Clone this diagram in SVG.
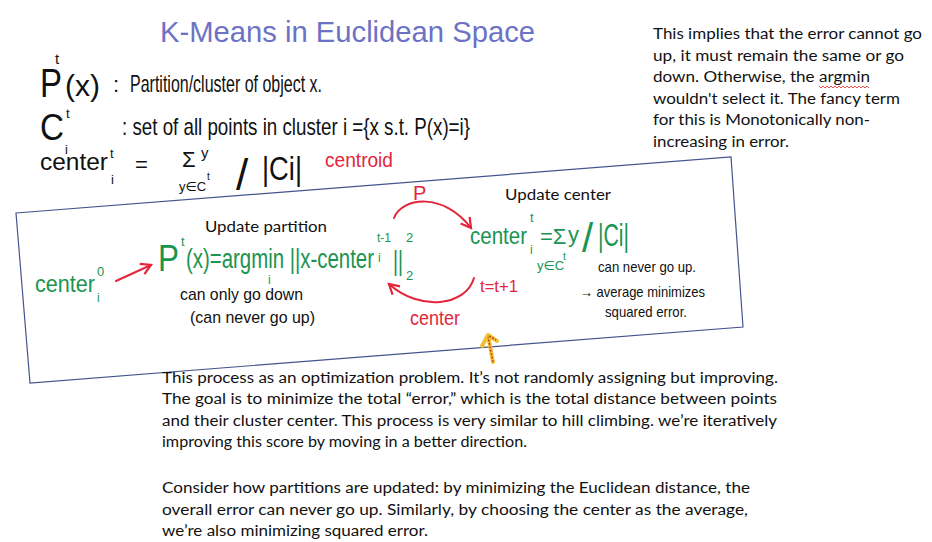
<svg xmlns="http://www.w3.org/2000/svg" width="932" height="542" viewBox="0 0 932 542">
<style>
.hw{font-family:"Liberation Sans","DejaVu Sans",sans-serif;}
.blk{fill:#111;}
.grn{fill:#1a9450;}
.red{fill:#e3263c;}
.ttl{fill:#6d72c6;}
.typ{font-family:Lato,"Open Sans","Liberation Sans",sans-serif;fill:#111;font-size:15.5px;}
.rl{fill:none;stroke:#e3263c;stroke-width:2;stroke-linecap:round;}
</style>
<defs>
<marker id="ah" viewBox="0 0 10 10" refX="8" refY="5" markerWidth="7" markerHeight="7" orient="auto-start-reverse">
<path d="M1,1 L8,5 L1,9" fill="none" stroke="#e3263c" stroke-width="1.6"/>
</marker>
</defs>
<rect width="932" height="542" fill="#fff"/>

<g id="title"><text class="hw ttl" x="160" y="42" font-size="30" textLength="375" lengthAdjust="spacingAndGlyphs">K-Means in Euclidean Space</text></g>

<g id="def-partition" class="hw blk">
<text x="40" y="97" font-size="40" textLength="22" lengthAdjust="spacingAndGlyphs">P</text>
<text x="55" y="64" font-size="15">t</text>
<text x="65" y="96" font-size="30">(x)</text>
<text x="113" y="92" font-size="22">:</text>
<text x="130" y="92" font-size="24" textLength="192" lengthAdjust="spacingAndGlyphs">Partition/cluster of object x.</text>
</g>

<g id="def-cluster" class="hw blk">
<text x="40" y="140" font-size="36" textLength="24" lengthAdjust="spacingAndGlyphs">C</text>
<text x="66" y="118" font-size="13">t</text>
<text x="65" y="154" font-size="13">i</text>
<text x="122" y="135" font-size="24" textLength="348" lengthAdjust="spacingAndGlyphs">: set of all points in cluster  i  ={x s.t.  P(x)=i}</text>
</g>

<g id="def-center" class="hw blk">
<text x="40" y="170" font-size="24" textLength="68" lengthAdjust="spacingAndGlyphs">center</text>
<text x="110" y="158" font-size="13">t</text>
<text x="111" y="184" font-size="13">i</text>
<text x="135" y="172" font-size="22">=</text>
<text x="182" y="167" font-size="22">Σ</text>
<text x="201" y="158" font-size="15">y</text>
<text x="179" y="191" font-size="13">y∈C</text>
<text x="207" y="180" font-size="10">t</text>
<text x="236" y="190" font-size="44">/</text>
<text x="262" y="180" font-size="34" textLength="40" lengthAdjust="spacingAndGlyphs">|Ci|</text>
<text class="red" x="325" y="167" font-size="20" textLength="68" lengthAdjust="spacingAndGlyphs">centroid</text>
</g>

<g id="box"><polygon points="16,213 731,157 743,327 30,383" fill="none" stroke="#44558c" stroke-width="1.2"/></g>

<g id="update-partition">
<text class="typ" x="205" y="232" textLength="122" lengthAdjust="spacingAndGlyphs">Update partition</text>
<g class="hw grn">
<text x="158" y="271" font-size="36" textLength="21" lengthAdjust="spacingAndGlyphs">P</text>
<text x="181" y="246" font-size="13">t</text>
<text x="186" y="268" font-size="27" textLength="188" lengthAdjust="spacingAndGlyphs">(x)=argmin ||x-center</text>
<text x="268" y="284" font-size="12">i</text>
<text x="377" y="242" font-size="12">t-1</text>
<text x="378" y="262" font-size="12">i</text>
<text x="393" y="270" font-size="28" textLength="10" lengthAdjust="spacingAndGlyphs">||</text>
<text x="406" y="242" font-size="13">2</text>
<text x="406" y="280" font-size="13">2</text>
</g>
<g class="hw blk">
<text x="180" y="300" font-size="17" textLength="123" lengthAdjust="spacingAndGlyphs">can only go down</text>
<text x="190" y="323" font-size="17" textLength="125" lengthAdjust="spacingAndGlyphs">(can never go up)</text>
</g>
</g>

<g id="start-center" class="hw grn">
<text x="35" y="292" font-size="24" textLength="60" lengthAdjust="spacingAndGlyphs">center</text>
<text x="97" y="276" font-size="13">0</text>
<text x="97" y="302" font-size="12">i</text>
</g>

<g id="update-center">
<text class="typ" x="505" y="200" textLength="106" lengthAdjust="spacingAndGlyphs">Update center</text>
<g class="hw grn">
<text x="470" y="244" font-size="24" textLength="57" lengthAdjust="spacingAndGlyphs">center</text>
<text x="530" y="222" font-size="13">t</text>
<text x="530" y="254" font-size="12">i</text>
<text x="540" y="244" font-size="22">=Σ</text>
<text x="568" y="242" font-size="22">y</text>
<text x="537" y="270" font-size="13">y∈C</text>
<text x="563" y="260" font-size="10">t</text>
<text x="582" y="252" font-size="40">/</text>
<text x="598" y="246" font-size="32" textLength="31" lengthAdjust="spacingAndGlyphs">|Ci|</text>
</g>
<g class="hw blk">
<text x="598" y="272" font-size="15" textLength="98" lengthAdjust="spacingAndGlyphs">can never go up.</text>
<text x="580" y="297" font-size="15" textLength="125" lengthAdjust="spacingAndGlyphs">→ average minimizes</text>
<text x="605" y="317" font-size="15" textLength="82" lengthAdjust="spacingAndGlyphs">squared error.</text>
</g>
</g>

<g id="connectors">
<path class="rl" d="M116,281 L151,265" marker-end="url(#ah)"/>
<path class="rl" d="M394,218 C402,197 444,192 471,228" marker-end="url(#ah)"/>
<path class="rl" d="M474,278 C466,306 420,312 389,284" marker-end="url(#ah)"/>
<g class="hw red">
<text x="413" y="200" font-size="20">P</text>
<text x="410" y="325" font-size="20" textLength="50" lengthAdjust="spacingAndGlyphs">center</text>
<text x="480" y="292" font-size="17" textLength="38" lengthAdjust="spacingAndGlyphs">t=t+1</text>
</g>
</g>

<g id="highlight-arrow">
<path d="M493,362 L488,335 M482,346 L488,335 L497,341" fill="none" stroke="#f0c232" stroke-width="4" stroke-linecap="round" stroke-linejoin="round"/>
<path d="M493,362 L488,337 M489,336 L496,340" fill="none" stroke="#c8401e" stroke-width="1.5" stroke-dasharray="2 1.5"/>
</g>

<g id="note-right" class="typ">
<text x="653" y="39" textLength="269" lengthAdjust="spacingAndGlyphs">This implies that the error cannot go</text>
<text x="653" y="60.5" textLength="251" lengthAdjust="spacingAndGlyphs">up, it must remain the same or go</text>
<text x="653" y="82" textLength="217" lengthAdjust="spacingAndGlyphs">down. Otherwise, the argmin</text>
<text x="653" y="103.5" textLength="247" lengthAdjust="spacingAndGlyphs">wouldn't select it. The fancy term</text>
<text x="653" y="125" textLength="217" lengthAdjust="spacingAndGlyphs">for this is Monotonically non-</text>
<text x="653" y="146.5" textLength="136" lengthAdjust="spacingAndGlyphs">increasing in error.</text>
<path d="M819,86 l2,2 l2,-2 l2,2 l2,-2 l2,2 l2,-2 l2,2 l2,-2 l2,2 l2,-2 l2,2 l2,-2 l2,2 l2,-2 l2,2 l2,-2 l2,2 l2,-2 l2,2 l2,-2 l2,2 l2,-2 l2,2 l2,-2 l2,2" fill="none" stroke="#e02020" stroke-width="0.8"/>
</g>

<g id="note-bottom" class="typ">
<text x="162" y="383" textLength="616" lengthAdjust="spacingAndGlyphs">This process as an optimization problem. It’s not randomly assigning but improving.</text>
<text x="162" y="404" textLength="615" lengthAdjust="spacingAndGlyphs">The goal is to minimize the total “error,” which is the total distance between points</text>
<text x="162" y="426" textLength="615" lengthAdjust="spacingAndGlyphs">and their cluster center. This process is very similar to hill climbing. we’re iteratively</text>
<text x="162" y="447" textLength="365" lengthAdjust="spacingAndGlyphs">improving this score by moving in a better direction.</text>
<text x="162" y="493" textLength="588" lengthAdjust="spacingAndGlyphs">Consider how partitions are updated: by minimizing the Euclidean distance, the</text>
<text x="162" y="515" textLength="586" lengthAdjust="spacingAndGlyphs">overall error can never go up. Similarly, by choosing the center as the average,</text>
<text x="162" y="536" textLength="266" lengthAdjust="spacingAndGlyphs">we’re also minimizing squared error.</text>
</g>
</svg>
